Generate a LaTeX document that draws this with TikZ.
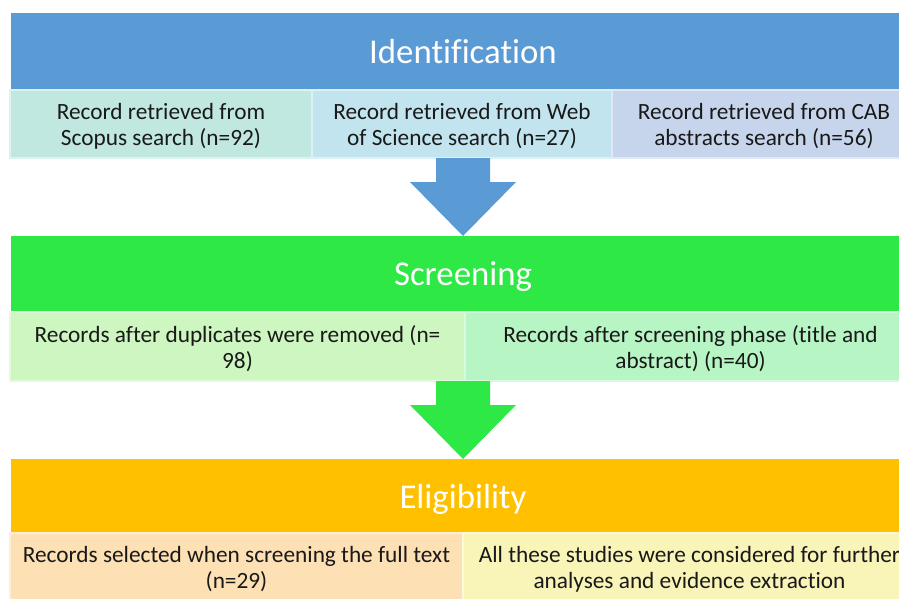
\documentclass[tikz,border=0pt]{standalone}
\usepackage{fontspec}
\setmainfont[Ligatures=NoCommon]{Carlito}
\usetikzlibrary{positioning, calc}

\definecolor{idblue}{HTML}{5B9BD5}
\definecolor{scrgreen}{HTML}{2EE845}
\definecolor{elorange}{HTML}{FFC000}
\definecolor{idA}{HTML}{C0E8E0}
\definecolor{idB}{HTML}{C2E4EE}
\definecolor{idC}{HTML}{C7D5EC}
\definecolor{scrA}{HTML}{CDF6C0}
\definecolor{scrB}{HTML}{B8F5C4}
\definecolor{elA}{HTML}{FDE0B3}
\definecolor{elB}{HTML}{F9F4B8}

\begin{document}
\begin{tikzpicture}[x=1pt,y=-1pt,font=\fontsize{23.3}{26}\selectfont]

		\tikzset{node head/.style={anchor=north west, inner sep=0pt, outer sep=0pt,
				minimum width=904pt, minimum height=77pt, text depth=0pt,
				text=white, font=\fontsize{34.8}{40}\selectfont}}
		\tikzset{node sub/.style={inner sep=0pt, outer sep=0pt,
				minimum height=68pt, align=center, text depth=0pt,
				line width=1.5pt, text=black!90}}

	\useasboundingbox (0,0) rectangle (899,598);
	\clip (0,0) rectangle (899,598);

	% Identification
	\node[node head, fill=idblue] (idhead) at (11,13) {Identification};
	\node[node sub, fill=idA, draw=idA!55!white, minimum width=302pt,
		below=0pt of idhead.south west, anchor=north west, xshift=-1pt] (id1)
		{Record retrieved from\\Scopus search (n=92)};
	\node[node sub, fill=idB, draw=idB!55!white, minimum width=300pt,
		right=0pt of id1] (id2)
		{Record retrieved from Web\\of Science search (n=27)};
	\node[node sub, fill=idC, draw=idC!55!white, minimum width=304pt,
		right=0pt of id2] (id3)
		{Record retrieved from CAB\\abstracts search (n=56)};

	% Screening
	\node[node head, fill=scrgreen, minimum height=76pt] (scrhead) at (11,236) {Screening};
	\node[node sub, fill=scrA, draw=scrA!55!white, minimum width=455pt, minimum height=69pt,
		below=0pt of scrhead.south west, anchor=north west, xshift=-1pt] (scr1)
		{Records after duplicates were removed (n=\\98)};
	\node[node sub, fill=scrB, draw=scrB!55!white, minimum width=451pt, minimum height=69pt,
		right=0pt of scr1] (scr2)
		{Records after screening phase (title and\\abstract) (n=40)};

	% Eligibility
	\node[node head, fill=elorange, minimum height=74pt] (elhead) at (11,459) {Eligibility};
	\node[node sub, fill=elA, draw=elA!55!white, minimum width=453pt,
		below=0pt of elhead.south west, anchor=north west, xshift=-1pt] (el1)
		{Records selected when screening the full text\\(n=29)};
	\node[node sub, fill=elB, draw=elB!55!white, minimum width=453pt,
		right=0pt of el1] (el2)
		{All these studies were considered for further\\analyses and evidence extraction};

	% block arrows
	\coordinate (a1) at (idhead.south |- id1.south);
	\coordinate (a2) at (scrhead.south |- scr1.south);
	\fill[idblue] ($(a1)+(-27,0)$) -- ($(a1)+(27,0)$) -- ($(a1)+(27,24)$)
		-- ($(a1)+(53,24)$) -- (scrhead.north) -- ($(a1)+(-53,24)$)
		-- ($(a1)+(-27,24)$) -- cycle;
	\fill[scrgreen] ($(a2)+(-27,0)$) -- ($(a2)+(27,0)$) -- ($(a2)+(27,24)$)
		-- ($(a2)+(53,24)$) -- (elhead.north) -- ($(a2)+(-53,24)$)
		-- ($(a2)+(-27,24)$) -- cycle;
\end{tikzpicture}
\end{document}
